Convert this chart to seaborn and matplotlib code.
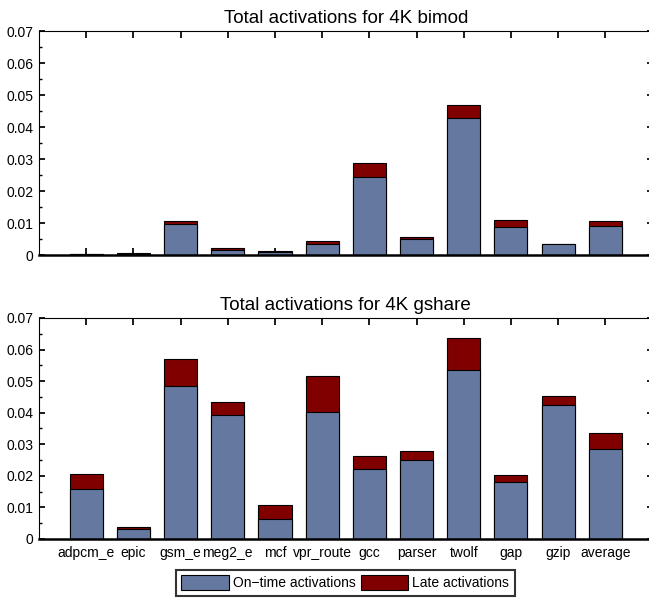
import numpy as np
import pandas as pd
import matplotlib
matplotlib.use("Agg")
import matplotlib.pyplot as plt
import matplotlib.ticker as mticker
from matplotlib.patches import Patch
import seaborn as sns

sns.set_theme(style="ticks")
plt.rcParams["font.family"] = ["Liberation Sans", "DejaVu Sans"]
plt.rcParams["text.color"] = "black"
plt.rcParams["axes.labelcolor"] = "black"
plt.rcParams["xtick.color"] = "black"
plt.rcParams["ytick.color"] = "black"

BENCHMARKS = ["adpcm_e", "epic", "gsm_e", "meg2_e", "mcf", "vpr_route",
              "gcc", "parser", "twolf", "gap", "gzip", "average"]

# 4K bimod
BIMOD_ONTIME = [0.0003, 0.0003, 0.0097, 0.0016, 0.0008, 0.0035,
                0.0244, 0.0049, 0.0427, 0.0089, 0.0033, 0.0091]
BIMOD_LATE = [0.0001, 0.0003, 0.0010, 0.0005, 0.0003, 0.0008,
              0.0045, 0.0006, 0.0041, 0.0020, 0.0002, 0.0014]

# 4K gshare
GSHARE_ONTIME = [0.0157, 0.0031, 0.0485, 0.0394, 0.0064, 0.0403,
                 0.0222, 0.0249, 0.0534, 0.0181, 0.0425, 0.0286]
GSHARE_LATE = [0.0050, 0.0007, 0.0084, 0.0040, 0.0044, 0.0112,
               0.0041, 0.0031, 0.0102, 0.0022, 0.0029, 0.0051]

YTICKS = [0, 0.01, 0.02, 0.03, 0.04, 0.05, 0.06, 0.07]
YTICK_LABELS = ["0", "0.01", "0.02", "0.03", "0.04", "0.05", "0.06", "0.07"]

ONTIME_COLOR = "#6478a0"
LATE_COLOR = "#800000"


def draw_panel(ax, ontime, late, title, show_labels):
    df = pd.DataFrame({
        "bench": BENCHMARKS,
        "ontime": ontime,
        "total": np.array(ontime) + np.array(late),
    })
    # total bar first (late colour), on-time bar drawn over it
    sns.barplot(data=df, x="bench", y="total", color=LATE_COLOR, saturation=1,
                width=0.7, edgecolor="black", linewidth=0.8, ax=ax)
    sns.barplot(data=df, x="bench", y="ontime", color=ONTIME_COLOR, saturation=1,
                width=0.7, edgecolor="black", linewidth=0.8, ax=ax)

    ax.set_xlim(-1, 12)
    ax.set_ylim(0, 0.07)
    ax.set_yticks(YTICKS)
    ax.set_yticklabels(YTICK_LABELS)
    ax.yaxis.set_minor_locator(mticker.MultipleLocator(0.005))
    ax.set_xlabel("")
    ax.set_ylabel("")
    ax.set_title(title, fontsize=13.5, pad=6, color="black")

    ax.tick_params(axis="both", which="both", direction="in",
                   top=True, right=True, labelsize=10, color="black")
    ax.tick_params(axis="x", which="major", length=5, pad=5)
    ax.tick_params(axis="y", which="major", length=4, pad=4)
    ax.tick_params(axis="y", which="minor", length=2.5)
    if not show_labels:
        ax.tick_params(axis="x", labelbottom=False)

    for side in ["left", "top", "right"]:
        ax.spines[side].set_linewidth(0.8)
        ax.spines[side].set_color("black")
    ax.spines["bottom"].set_linewidth(1.8)
    ax.spines["bottom"].set_color("black")


fig = plt.figure(figsize=(6.49, 6.02), dpi=100)
ax_top = fig.add_axes([0.0601, 0.5764, 0.9454, 0.3721])
ax_bot = fig.add_axes([0.0601, 0.1047, 0.9454, 0.3671])

draw_panel(ax_top, BIMOD_ONTIME, BIMOD_LATE, "Total activations for 4K bimod", False)
draw_panel(ax_bot, GSHARE_ONTIME, GSHARE_LATE, "Total activations for 4K gshare", True)

handles = [
    Patch(facecolor=ONTIME_COLOR, edgecolor="black", linewidth=0.8, label="On\u2212time activations"),
    Patch(facecolor=LATE_COLOR, edgecolor="black", linewidth=0.8, label="Late activations"),
]
leg = fig.legend(handles=handles, loc="center", bbox_to_anchor=(0.532, 0.032),
                 ncol=2, fontsize=10, frameon=True, fancybox=False,
                 handlelength=3.4, handleheight=1.3, handletextpad=0.3,
                 columnspacing=0.4, borderpad=0.4, borderaxespad=0)
leg.get_frame().set_edgecolor("black")
leg.get_frame().set_linewidth(1.5)

fig.savefig("out.png", dpi=100)
